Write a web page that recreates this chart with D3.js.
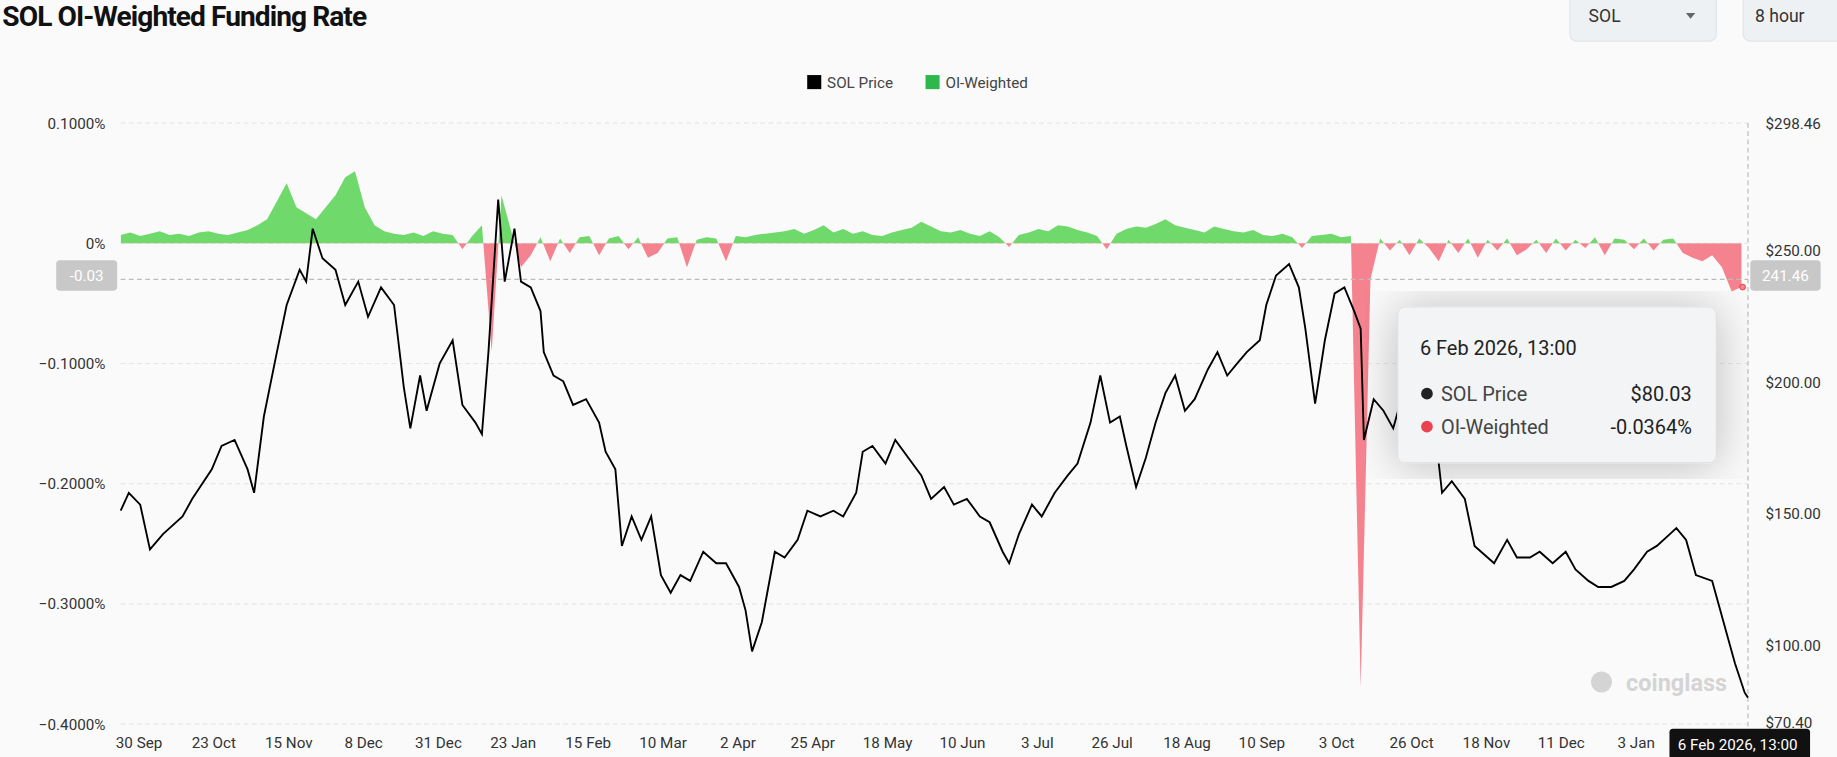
<!DOCTYPE html>
<html><head><meta charset="utf-8">
<script src="https://cdn.jsdelivr.net/npm/d3@7"></script>
<style>
body{margin:0;background:#fafafa;font-family:Roboto,"Open Sans",sans-serif;}
</style></head>
<body>
<svg id="chart" width="1837" height="757" viewBox="0 0 1568 646"></svg>
<script>
// start of the series (8h candles, shown here at ~3 day resolution)
const startDate = new Date(2024, 8, 24, 13);

// SOL price: [days since start, price $]
const priceDays = [0,2.5,6,9,13,19,22,28,31,35,39,41,44,48,51,55,57,59,62,66,69,73,76,80,84,87,89,92,94,98,102,105,109,111,113,116,118,121,123,126,129,130,133,136,139,143,147,149,152,154,157,160,163,166,169,172,175,179,183,186,190,192,194,197,201,204,208,211,215,219,222,226,228,231,235,238,242,246,249,253,256,260,264,267,271,273,276,280,283,287,291,294,298,301,304,307,309,312,315,318,321,324,327,330,334,337,340,343,346,350,352,355,359,362,364,367,370,373,376,379,381,382,385,388,391,393,397,400,404,406,409,413,416,418,422,426,429,433,436,440,444,447,451,454,458,462,465,469,472,476,478,481,484,489,491,494,496,499,500];
const priceVals = [151.1,157.9,153.4,136.4,142.2,148.9,155.6,166.8,175.7,178,166.8,157.9,186.9,211.4,229.3,242.7,238.2,258.3,247.1,242.7,229.3,238.2,224.8,236,229.3,198,182.4,202.5,189.1,207,215.9,191.3,184.6,180.2,211.4,269.4,238.2,258.3,238.2,236,227,211.4,202.5,200.3,191.3,193.5,184.6,173.5,166.8,137.7,148.9,140,148.9,126.6,119.9,126.6,124.4,135.5,131.1,131.1,122.1,113.2,97.6,108.7,135.5,133.3,140,151.1,148.9,151.1,148.9,157.9,173.5,175.7,169,178,171.2,164.5,155.6,160.1,153.4,155.6,148.9,146.7,135.5,131.1,142.2,153.4,148.9,157.9,164.5,169,184.6,202.5,184.6,186.9,175.7,160.1,171.2,184.6,195.8,202.5,189.1,193.5,204.7,211.4,202.5,207,211.4,215.9,229.3,240.5,244.9,236,220.3,191.8,215.9,233.7,236,227,220.3,178,193.5,189.1,182.4,191.3,193.5,198,180.2,157.9,162.3,155.6,137.7,135.5,131.1,140,133.3,133.3,135.5,131.1,135.5,128.8,124.4,122.1,122.1,124.4,128.8,135.5,137.7,142.2,144.5,140,126.6,124.4,115.4,102,93.1,81.9,80.03];

// OI-weighted funding rate (%), one value every 3 days
const fundStep = 3;
const fundVals = [0.007,0.009,0.006,0.008,0.01,0.007,0.008,0.006,0.009,0.01,0.008,0.007,0.009,0.011,
0.015,0.02,0.035,0.05,0.03,0.025,0.02,0.03,0.04,0.055,0.06,0.03,0.015,
0.01,0.008,0.007,0.009,0.006,0.01,0.008,0.007,-0.005,0.006,
0.015,-0.09,0.04,0.01,-0.02,
-0.01,0.005,-0.015,0.004,-0.008,0.005,0.006,-0.01,0.004,0.006,-0.005,0.005,-0.012,-0.008,0.004,0.005,-0.02,0.003,0.005,0.004,-0.015,0.006,0.005,0.007,0.008,
0.009,0.01,0.012,0.008,0.011,0.015,0.009,0.012,0.008,0.01,0.007,0.006,0.009,0.011,0.013,0.018,0.014,0.01,0.009,0.011,0.008,0.006,0.01,0.005,-0.003,0.007,0.009,0.012,0.01,0.015,0.014,0.011,0.009,0.006,-0.005,0.008,0.012,0.014,0.013,0.016,0.02,0.015,0.013,0.011,0.009,0.014,0.012,0.01,0.009,0.011,0.007,0.006,0.008,0.005,-0.004,0.006,0.007,0.008,0.005,0.006,
-0.37,
-0.03,0.004,-0.006,0.003,-0.01,0.004,-0.004,-0.015,0.003,-0.008,0.004,-0.012,0.003,-0.006,0.004,-0.01,-0.005,0.003,-0.008,0.004,-0.006,0.003,-0.004,0.005,-0.01,0.004,0.003,-0.005,0.004,-0.006,0.003,0.004,-0.008,-0.012,-0.015,-0.01,-0.02,-0.04,-0.0364];

const leftTicks = [0.1,0,-0.1,-0.2,-0.3,-0.4];
const rightTicks = [298.46,250,200,150,100,70.40];
const xTickLabels = ["30 Sep","23 Oct","15 Nov","8 Dec","31 Dec","23 Jan","15 Feb","10 Mar","2 Apr","25 Apr","18 May","10 Jun","3 Jul","26 Jul","18 Aug","10 Sep","3 Oct","26 Oct","18 Nov","11 Dec","3 Jan"];
const xTickDates = [[2024,8,30],[2024,9,23],[2024,10,15],[2024,11,8],[2024,11,31],[2025,0,23],[2025,1,15],[2025,2,10],[2025,3,2],[2025,3,25],[2025,4,18],[2025,5,10],[2025,6,3],[2025,6,26],[2025,7,18],[2025,8,10],[2025,9,3],[2025,9,26],[2025,10,18],[2025,11,11],[2026,0,3]];

const dayMs = 864e5;
const toDate = d => new Date(startDate.getTime() + d * dayMs);
const endDate = toDate(500);

const svg = d3.select('#chart');
const L = 103, R = 1492, T = 105, B = 618;

const x = d3.scaleTime().domain([startDate, endDate]).range([L, R]);
const yL = d3.scaleLinear().domain([-0.4, 0.1]).range([B, T]);
const yR = d3.scaleLinear().domain([70.40, 298.46]).range([617, T]);

// title and controls
svg.append('text').attr('x', 2).attr('y', 22).attr('font-size', 24).attr('font-weight', 700)
  .attr('fill', '#111').attr('font-family', 'Roboto').attr('letter-spacing', -0.8).text('SOL OI-Weighted Funding Rate');
svg.append('rect').attr('x', 1340).attr('y', -6).attr('width', 125).attr('height', 41).attr('rx', 6)
  .attr('fill', '#eef1f4').attr('stroke', '#e2e5e8');
svg.append('text').attr('x', 1356).attr('y', 19).attr('font-size', 15).attr('fill', '#333').text('SOL');
svg.append('path').attr('d', 'M1439,11 l8,0 l-4,5 z').attr('fill', '#666');
svg.append('rect').attr('x', 1488).attr('y', -6).attr('width', 100).attr('height', 41).attr('rx', 6)
  .attr('fill', '#eef1f4').attr('stroke', '#e2e5e8');
svg.append('text').attr('x', 1498).attr('y', 19).attr('font-size', 15).attr('fill', '#333').text('8 hour');

// legend
const lg = svg.append('g').attr('font-size', 13).attr('fill', '#444');
lg.append('rect').attr('x', 689).attr('y', 64).attr('width', 12).attr('height', 12).attr('fill', '#000');
lg.append('text').attr('x', 706).attr('y', 75).text('SOL Price');
lg.append('rect').attr('x', 790).attr('y', 64).attr('width', 12).attr('height', 12).attr('fill', '#2db84d');
lg.append('text').attr('x', 807).attr('y', 75).text('OI-Weighted');

// grid + left axis
leftTicks.forEach(t => {
  svg.append('line').attr('x1', L).attr('x2', R).attr('y1', yL(t)).attr('y2', yL(t))
    .attr('stroke', '#e6e6e6').attr('stroke-dasharray', '4,3');
});
svg.append('g').attr('transform', `translate(${L - 10},0)`)
  .call(d3.axisLeft(yL).tickValues(leftTicks).tickSize(0).tickFormat(d => d === 0 ? '0%' : d3.format('.4f')(d) + '%'))
  .call(g => g.select('.domain').remove())
  .call(g => g.selectAll('text').attr('font-size', 13).attr('fill', '#333').attr('font-family', 'Roboto'));

// right axis
svg.append('g').attr('transform', `translate(${R + 12},0)`)
  .call(d3.axisRight(yR).tickValues(rightTicks).tickSize(0).tickFormat(d => '$' + d3.format('.2f')(d)))
  .call(g => g.select('.domain').remove())
  .call(g => g.selectAll('text').attr('font-size', 13).attr('fill', '#333').attr('font-family', 'Roboto'));

// x axis
svg.append('g').attr('transform', `translate(0,${B + 8})`)
  .call(d3.axisBottom(x).tickValues(xTickDates.map(a => new Date(a[0], a[1], a[2]))).tickSize(0)
    .tickFormat((d, i) => xTickLabels[i]))
  .call(g => g.select('.domain').remove())
  .call(g => g.selectAll('text').attr('font-size', 13).attr('fill', '#333').attr('font-family', 'Roboto'));

// funding area
const fundData = fundVals.map((v, i) => ({ date: toDate(Math.min(i * fundStep, 500)), v }));
const area = d3.area().x(d => x(d.date)).y0(yL(0)).y1(d => yL(d.v)).curve(d3.curveLinear);
const defs = svg.append('defs');
defs.append('clipPath').attr('id', 'above').append('rect').attr('x', L).attr('y', 0).attr('width', R - L).attr('height', yL(0));
defs.append('clipPath').attr('id', 'below').append('rect').attr('x', L).attr('y', yL(0)).attr('width', R - L).attr('height', 500);
svg.append('path').datum(fundData).attr('d', area).attr('fill', '#6fd96b').attr('clip-path', 'url(#above)');
svg.append('path').datum(fundData).attr('d', area).attr('fill', '#f4838f').attr('clip-path', 'url(#below)');

// crosshair
const last = fundData[fundData.length - 1];
svg.append('line').attr('x1', L).attr('x2', R).attr('y1', yL(-0.03)).attr('y2', yL(-0.03))
  .attr('stroke', '#bbb').attr('stroke-dasharray', '4,3');
svg.append('line').attr('x1', R).attr('x2', R).attr('y1', T).attr('y2', B + 4)
  .attr('stroke', '#bbb').attr('stroke-dasharray', '4,3');

// price line
const priceData = priceDays.map((d, i) => ({ date: toDate(d), v: priceVals[i] }));
svg.append('path').datum(priceData)
  .attr('d', d3.line().x(d => x(d.date)).y(d => yR(d.v)).curve(d3.curveLinear))
  .attr('fill', 'none').attr('stroke', '#000').attr('stroke-width', 1.6);

svg.append('circle').attr('cx', x(last.date) + 1).attr('cy', yL(last.v)).attr('r', 2.5).attr('fill', '#f4838f').attr('stroke', '#d33').attr('stroke-width', 0.7);

// watermark
svg.append('text').attr('x', 1388).attr('y', 590).attr('font-size', 20).attr('font-weight', 700)
  .attr('fill', '#d4d4d4').text('coinglass');
svg.append('circle').attr('cx', 1367).attr('cy', 582).attr('r', 9).attr('fill', '#d4d4d4');

// axis pointer labels
svg.append('rect').attr('x', 48).attr('y', 222).attr('width', 52).attr('height', 26).attr('rx', 3).attr('fill', '#c8c8c8');
svg.append('text').attr('x', 74).attr('y', 240).attr('text-anchor', 'middle').attr('font-size', 13).attr('fill', '#fff').text('-0.03');
svg.append('rect').attr('x', 1494).attr('y', 222).attr('width', 60).attr('height', 26).attr('rx', 3).attr('fill', '#c8c8c8');
svg.append('text').attr('x', 1524).attr('y', 240).attr('text-anchor', 'middle').attr('font-size', 13).attr('fill', '#fff').text('241.46');
svg.append('rect').attr('x', 1425).attr('y', 622).attr('width', 120).attr('height', 26).attr('rx', 3).attr('fill', '#111');
svg.append('text').attr('x', 1432).attr('y', 640).attr('font-size', 13).attr('fill', '#fff').text('6 Feb 2026, 13:00');

// tooltip
const tip = svg.append('g');
defs.append('filter').attr('id', 'sh').append('feDropShadow').attr('dx', 0).attr('dy', 2).attr('stdDeviation', 20).attr('flood-opacity', 0.25);
tip.append('rect').attr('x', 1193).attr('y', 262).attr('width', 272).attr('height', 133).attr('rx', 6)
  .attr('fill', '#f2f4f6').attr('stroke', '#e0e0e0').attr('filter', 'url(#sh)');
tip.append('text').attr('x', 1212).attr('y', 303).attr('font-size', 17).attr('fill', '#222').text('6 Feb 2026, 13:00');
tip.append('circle').attr('cx', 1218).attr('cy', 336).attr('r', 5).attr('fill', '#222');
tip.append('text').attr('x', 1230).attr('y', 342).attr('font-size', 17).attr('fill', '#444').text('SOL Price');
tip.append('text').attr('x', 1444).attr('y', 342).attr('text-anchor', 'end').attr('font-size', 17).attr('fill', '#222').text('$' + priceVals[priceVals.length - 1].toFixed(2));
tip.append('circle').attr('cx', 1218).attr('cy', 364).attr('r', 5).attr('fill', '#e8434f');
tip.append('text').attr('x', 1230).attr('y', 370).attr('font-size', 17).attr('fill', '#444').text('OI-Weighted');
tip.append('text').attr('x', 1444).attr('y', 370).attr('text-anchor', 'end').attr('font-size', 17).attr('fill', '#222').text(last.v.toFixed(4) + '%');
</script>
</body></html>
